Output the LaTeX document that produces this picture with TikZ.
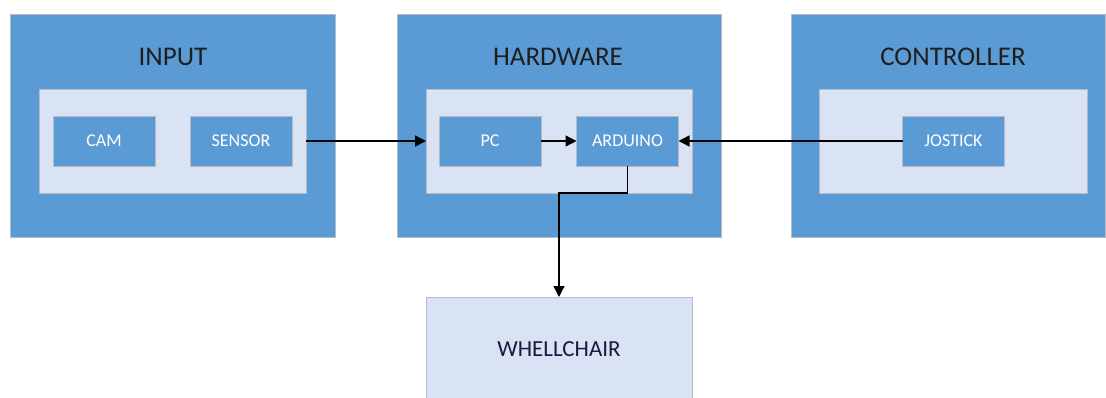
\documentclass[tikz,border=0pt]{standalone}
\usepackage{fontspec}
\setmainfont{Carlito}
\usetikzlibrary{arrows.meta}
\definecolor{outerblue}{HTML}{5B9BD5}
\definecolor{innerblue}{HTML}{DAE3F3}
\definecolor{edgegray}{HTML}{B4BCC8}
\definecolor{titlecol}{HTML}{1F1F1F}
\begin{document}
\begin{tikzpicture}[x=1pt,y=-1pt,
  outerbox/.style={fill=outerblue,draw=edgegray,line width=0.8pt,inner sep=0pt,outer sep=0pt},
  innerbox/.style={fill=innerblue,draw=edgegray,line width=0.8pt,inner sep=0pt,outer sep=0pt},
  smallbox/.style={fill=outerblue,draw=edgegray,line width=0.8pt,inner sep=0pt,outer sep=0pt,
    minimum width=102pt,minimum height=50pt,text=white,font=\fontsize{18}{20}\selectfont},
  titletext/.style={text=titlecol,font=\fontsize{27}{30}\selectfont,inner sep=0pt},
  conn/.style={draw=black,line width=1.3pt,-{Triangle[length=11pt,width=11pt]}}
]
\useasboundingbox (0,0) rectangle (1106,398);
\fill[white] (0,0) rectangle (1106,398);
% outer blocks
\node[outerbox,minimum width=325pt,minimum height=223pt] (input) at (172.5,125.5) {};
\node[outerbox,minimum width=324pt,minimum height=223pt] (hw) at (559,125.5) {};
\node[outerbox,minimum width=314pt,minimum height=223pt] (ctrl) at (948,125.5) {};
% titles
\node[titletext] (inputt) at (173,57) {INPUT};
\node[titletext] (hwt) at (558,57) {HARDWARE};
\node[titletext] (ctrlt) at (953,57) {CONTROLLER};
% inner panels
\node[innerbox,minimum width=267pt,minimum height=104pt] (ininner) at (172.5,141) {};
\node[innerbox,minimum width=266pt,minimum height=104pt] (hwinner) at (559,141) {};
\node[innerbox,minimum width=268pt,minimum height=104pt] (ctrlinner) at (953,141) {};
% small blocks
\node[smallbox] (cam) at (104,141) {CAM};
\node[smallbox] (sensor) at (241,141) {SENSOR};
\node[smallbox] (pc) at (490,141) {PC};
\node[smallbox] (arduino) at (627.5,141) {ARDUINO};
\node[smallbox] (jostick) at (953.5,141) {JOSTICK};
% wheelchair
\node[innerbox,minimum width=266pt,minimum height=104pt,text=titlecol!85!blue,
  font=\fontsize{23}{26}\selectfont] (wheel) at (559,349) {WHELLCHAIR};
% connectors
\draw[conn] (ininner.east) -- (hwinner.west);
\draw[conn] (pc.east) -- (arduino.west);
\draw[conn] (jostick.west) -- (arduino.east);
\draw[conn] (arduino.south) |- (hwinner.south) -- (wheel.north);
\end{tikzpicture}
\end{document}
